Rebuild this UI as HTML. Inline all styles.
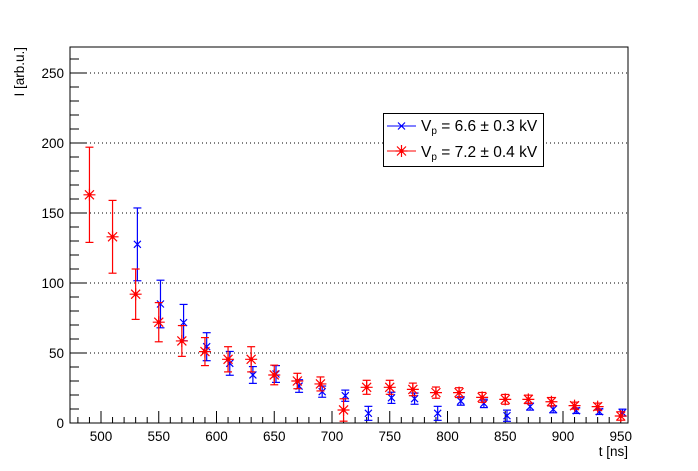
<!DOCTYPE html>
<html><head><meta charset="utf-8"><style>
body{margin:0;background:#fff;font-family:"Liberation Sans",sans-serif}
svg{display:block}
text{font-family:"Liberation Sans",sans-serif;font-size:13.5px;fill:#000}
</style></head><body>
<svg id="c" width="698" height="471" xmlns="http://www.w3.org/2000/svg"></svg>
<script>
const xCats=[490,510,530,550,570,590,610,630,650,670,690,710,730,750,770,790,810,830,850,870,890,910,930,950];
const blueX=[530,550,570,590,610,630,650,670,690,710,730,750,770,790,810,830,850,870,890,910,930,950];
const blueY=[127.6,85,71.7,54.5,42.6,34.3,35,26.4,22.4,19.5,6.9,18,17.4,6.9,15.7,14,5.2,11.7,9.8,8.8,8.1,7.4];
const blueE=[26,17,13,10,8.5,6,6,4.5,4,4,5,4,4,5,3,3,4,2.5,2.5,2,2,2.5];
const redY=[163,133,92,72,58.6,51,45.5,45.5,34.3,30,27.9,9.3,25.5,25.5,24,21.7,21.7,18.3,16.9,16.9,15.2,12.4,11.7,5];
const redE=[34,26,18,14,11,10,9,9,7,5.5,5,8,5,5,4.5,4,3.5,3.5,3.5,3,3,2.5,2.5,3];
const yTicks=[0,50,100,150,200,250];
const xTicks=[500,550,600,650,700,750,800,850,900,950];
const L=70,R=628,T=47,B=423;
const X=v=>101+(v-500)*1.155;
const Y=v=>B-v*1.4;
const s=document.getElementById('c');
function el(tag,a,p){const e=document.createElementNS('http://www.w3.org/2000/svg',tag);for(const k in a)e.setAttribute(k,a[k]);(p||s).appendChild(e);return e;}
for(const t of yTicks){if(t===0)continue;
const g=el('line',{x1:L,x2:R,y1:Y(t),y2:Y(t),stroke:'#000','stroke-dasharray':'1,3','stroke-width':1});

}
for(let v=0;v<=265;v+=10){const maj=v%50===0;el('line',{x1:L,x2:L+(maj?17:9),y1:Y(v),y2:Y(v),stroke:'#000'});}
for(const t of yTicks){const tx=el('text',{x:64,y:Y(t)+5,'text-anchor':'end'});tx.textContent=t;

}
for(let v=480;v<=950;v+=10){const maj=v%50===0;el('line',{x1:X(v),x2:X(v),y1:B,y2:B-(maj?12:6),stroke:'#000'});}
for(const t of xTicks){const tx=el('text',{x:X(t),y:441,'text-anchor':'middle'});tx.textContent=t;

}
const fr=el('rect',{x:L,y:T,width:R-L,height:B-T,fill:'none',stroke:'#000'});


const xt=el('text',{x:628,y:456,'text-anchor':'end'});xt.textContent='t [ns]';


const yt=el('text',{x:0,y:0,'text-anchor':'end',transform:'translate(24,47) rotate(-90)'});yt.textContent='I [arb.u.]';


function errbar(x,y,e,c){const x0=X(x),y1=Y(y+e),y2=Y(Math.max(0,y-e));
el('line',{x1:x0,x2:x0,y1:y1,y2:y2,stroke:c,'stroke-width':1.2});
el('line',{x1:x0-4,x2:x0+4,y1:y1,y2:y1,stroke:c,'stroke-width':1.2});
if(y-e>0)el('line',{x1:x0-4,x2:x0+4,y1:y2,y2:y2,stroke:c,'stroke-width':1.2});}
function cross(x0,y0,c,r){el('path',{d:`M${x0-r},${y0-r}L${x0+r},${y0+r}M${x0-r},${y0+r}L${x0+r},${y0-r}`,stroke:c,'stroke-width':1.2,fill:'none'});}
function star(x0,y0,c){cross(x0,y0,c,4.5);el('path',{d:`M${x0-6},${y0}L${x0+6},${y0}M${x0},${y0-6}L${x0},${y0+6}`,stroke:c,'stroke-width':1.2});el('circle',{cx:x0,cy:y0,r:2,fill:c});}
blueX.forEach((x,i)=>{const g=el('g',{});
errbar(x+1.5,blueY[i],blueE[i],'#00f');cross(X(x+1.5),Y(blueY[i]),'#00f',3.5);});
xCats.forEach((x,i)=>{errbar(x,redY[i],redE[i],'#f00');star(X(x),Y(redY[i]),'#f00');});
const lg=el('rect',{x:383.5,y:113.5,width:160,height:53,fill:'#fff',stroke:'#000'});


el('line',{x1:387,x2:416,y1:126,y2:126,stroke:'#00f'});cross(401.5,126,'#00f',3.5);
el('line',{x1:387,x2:416,y1:151,y2:151,stroke:'#f00'});star(401.5,151,'#f00');
const t1=el('text',{x:421,y:131,'font-size':'15.5px','style':'font-size:15.5px'});t1.innerHTML='V<tspan font-size="10" style="font-size:10px" dy="3">p</tspan><tspan dy="-3"> = 6.6 ± 0.3 kV</tspan>';


const t2=el('text',{x:421,y:157,'style':'font-size:15.5px'});t2.innerHTML='V<tspan style="font-size:10px" dy="3">p</tspan><tspan dy="-3"> = 7.2 ± 0.4 kV</tspan>';


</script>
</body></html>
